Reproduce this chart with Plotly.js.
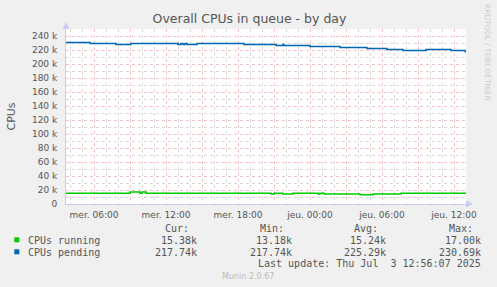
<!DOCTYPE html>
<html>
<head>
<meta charset="utf-8">
<script src="https://cdn.plot.ly/plotly-3.0.1.min.js"></script>
<style>html,body{margin:0;padding:0;background:#F0F0F0;}#chart{width:497px;height:287px;}</style>
</head>
<body>
<div id="chart"></div>
<script>
// ---- data (hours since Wed 00:00, values in CPUs) ----
const pendingHours = [3.67, 5.67, 7.83, 9.08, 13.0, 13.25, 13.42, 13.58, 13.75, 14.58, 18.5, 21.17, 21.75, 21.83, 24.0, 26.5, 28.75, 30.42, 31.75, 33.67, 35.75, 36.92, 37.0];
const pendingValues = [230690, 229250, 227800, 229250, 227800, 229250, 227800, 229250, 227800, 229250, 227800, 226400, 227800, 226400, 224900, 223500, 222100, 220600, 219200, 220600, 219200, 217740, 217740];
const runningHours = [3.67, 9.0, 9.83, 10.0, 10.33, 20.75, 21.0, 21.75, 22.58, 24.67, 24.83, 25.17, 28.17, 29.25, 31.58, 36.92, 37.0];
const runningValues = [15500, 17000, 15500, 17000, 15500, 14400, 15500, 14400, 15500, 14400, 15500, 14400, 13180, 14400, 15500, 15380, 15380];
const seriesNames = ['CPUs running', 'CPUs pending'];
const seriesColors = ['#00CC00', '#0066B3'];
const statHeaders = ['Cur:', 'Min:', 'Avg:', 'Max:'];
const runningStats = ['15.38k', '13.18k', '15.24k', '17.00k'];
const pendingStats = ['217.74k', '217.74k', '225.29k', '230.69k'];
const xTickVals = [6, 9, 12, 15, 18, 21, 24, 27, 30, 33, 36];
const xTickText = ['mer. 06:00', '', 'mer. 12:00', '', 'mer. 18:00', '', 'jeu. 00:00', '', 'jeu. 06:00', '', 'jeu. 12:00'];
const yTickVals = [0, 20000, 40000, 60000, 80000, 100000, 120000, 140000, 160000, 180000, 200000, 220000, 240000];
const yTickText = ['0', '20 k', '40 k', '60 k', '80 k', '100 k', '120 k', '140 k', '160 k', '180 k', '200 k', '220 k', '240 k'];
const titleText = 'Overall CPUs in queue - by day';
const yTitle = 'CPUs';
const lastUpdate = 'Last update: Thu Jul  3 12:56:07 2025';
const footer = 'Munin 2.0.67';
const sideText = 'RRDTOOL / TOBI OETIKER';

// ---- geometry helpers (pixel -> paper) ----
const L = 66, T = 29, W = 400, H = 175;
const px = x => (x - L) / W;
const py = y => (T + H - y) / H;

const mono = 'DejaVu Sans Mono, monospace';
const sans = 'DejaVu Sans, sans-serif';
const txtColor = '#555555';

const traces = [
  {x: runningHours, y: runningValues, name: seriesNames[0], type: 'scatter', mode: 'lines',
   line: {color: seriesColors[0], width: 1.5, shape: 'hv'}, hoverinfo: 'skip'},
  {x: pendingHours, y: pendingValues, name: seriesNames[1], type: 'scatter', mode: 'lines',
   line: {color: seriesColors[1], width: 1.5, shape: 'hv'}, hoverinfo: 'skip'}
];

const ann = [];
function addText(text, x, y, xanchor, font) {
  ann.push({text: text, x: px(x), y: py(y), xref: 'paper', yref: 'paper', xanchor: xanchor,
            yanchor: 'middle', showarrow: false, font: font});
}
const monoFont = {family: mono, size: 10, color: txtColor};
const colRight = [199, 294, 388, 483];
statHeaders.forEach((h, i) => addText(h, colRight[i] - 36, 228, 'left', monoFont));
addText(seriesNames[0], 26, 240, 'left', monoFont);
addText(seriesNames[1], 26, 252, 'left', monoFont);
runningStats.forEach((s, i) => addText(s, colRight[i], 240, 'right', monoFont));
pendingStats.forEach((s, i) => addText(s, colRight[i], 252, 'right', monoFont));
addText(lastUpdate, 483, 263, 'right', monoFont);
addText(footer, 248, 276.5, 'center', {family: sans, size: 8, color: '#BBBBBB'});
ann.push({text: yTitle, x: px(10.5), y: py(116), xref: 'paper', yref: 'paper', textangle: -90,
          xanchor: 'center', yanchor: 'middle', showarrow: false, font: {family: sans, size: 11, color: txtColor}});
ann.push({text: sideText, x: px(488), y: py(52), xref: 'paper', yref: 'paper', textangle: 90,
          xanchor: 'center', yanchor: 'middle', showarrow: false, font: {family: sans, size: 7.5, color: '#CCCCCC'}});

const axisCol = '#C8CCF0';
const shapes = [
  {type: 'rect', xref: 'paper', yref: 'paper', x0: px(14.3), x1: px(19.3), y0: py(237.3), y1: py(242.3),
   fillcolor: seriesColors[0], line: {width: 0}},
  {type: 'rect', xref: 'paper', yref: 'paper', x0: px(14.3), x1: px(19.3), y0: py(249.3), y1: py(254.3),
   fillcolor: seriesColors[1], line: {width: 0}},
  {type: 'path', xref: 'paper', yref: 'paper',
   path: `M ${px(62.5)},${py(29)} L ${px(69.5)},${py(29)} L ${px(66)},${py(22)} Z`,
   fillcolor: axisCol, line: {width: 0}},
  {type: 'path', xref: 'paper', yref: 'paper',
   path: `M ${px(466)},${py(200.5)} L ${px(466)},${py(207.5)} L ${px(473)},${py(204)} Z`,
   fillcolor: axisCol, line: {width: 0}}
];

const majorGrid = '#F3C2C2';
const minorGrid = '#D9D9D9';
const layout = {
  width: 497, height: 287,
  margin: {l: L, r: 497 - L - W, t: T, b: 287 - T - H, pad: 0},
  paper_bgcolor: '#F0F0F0', plot_bgcolor: '#FFFFFF',
  showlegend: false,
  title: {text: titleText, x: 0.502, xanchor: 'center', y: 1 - 18.5 / 287, yanchor: 'middle', yref: 'container',
          font: {family: sans, size: 12.5, color: txtColor}},
  xaxis: {range: [3.667, 37.0], tickmode: 'array', tickvals: xTickVals, ticktext: xTickText,
          showgrid: true, gridcolor: majorGrid, griddash: 'dot', gridwidth: 1,
          showline: true, linecolor: axisCol, linewidth: 1, zeroline: false,
          ticks: '', tickfont: {family: sans, size: 9, color: txtColor}, ticklabelstandoff: 2,
          minor: {tickmode: 'linear', tick0: 0, dtick: 1, showgrid: true, gridcolor: minorGrid, griddash: 'dot', gridwidth: 1},
          fixedrange: true},
  yaxis: {range: [0, 250000], tickmode: 'array', tickvals: yTickVals, ticktext: yTickText,
          showgrid: true, gridcolor: majorGrid, griddash: 'dot', gridwidth: 1,
          showline: true, linecolor: axisCol, linewidth: 1, zeroline: false,
          ticks: '', tickfont: {family: sans, size: 9, color: txtColor}, ticklabelstandoff: 6,
          minor: {tickmode: 'linear', tick0: 0, dtick: 10000, showgrid: true, gridcolor: minorGrid, griddash: 'dot', gridwidth: 1},
          fixedrange: true},
  annotations: ann,
  shapes: shapes
};

Plotly.newPlot('chart', traces, layout, {staticPlot: true, displayModeBar: false});
</script>
</body>
</html>
